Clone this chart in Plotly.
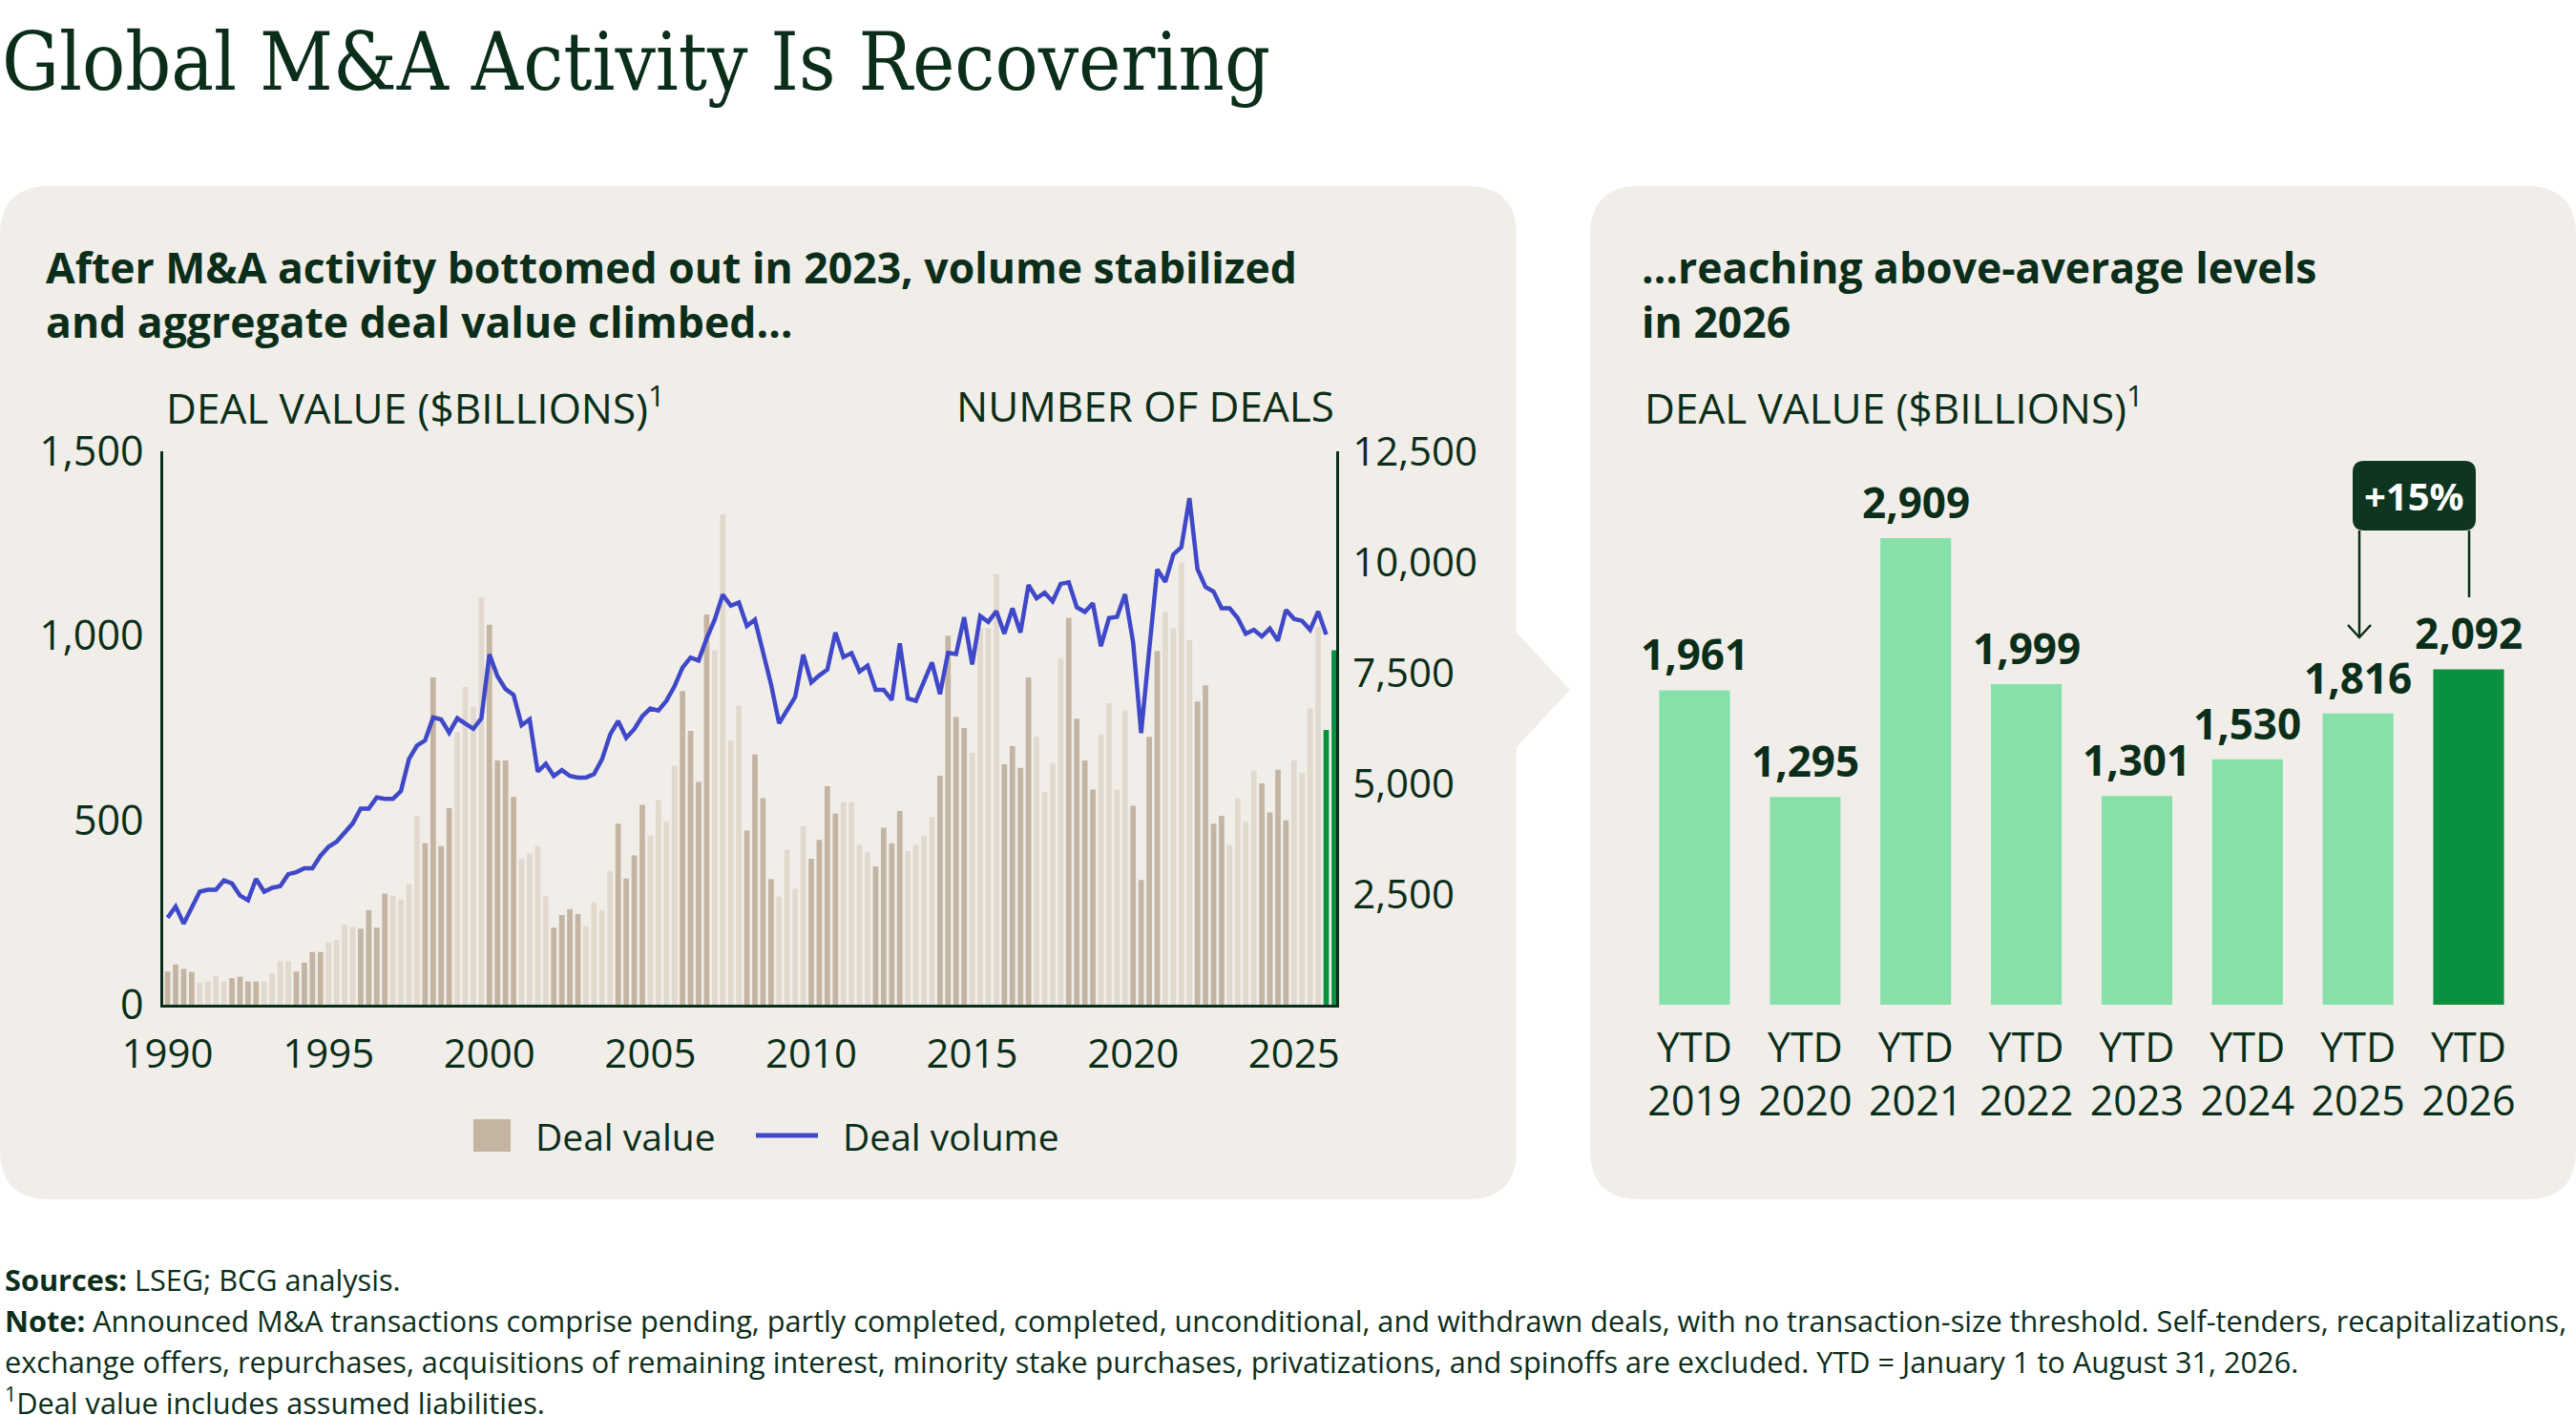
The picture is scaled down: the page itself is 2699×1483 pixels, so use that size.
import plotly.graph_objects as go

W, H = 2699, 1483
INK = "#0b2e1a"
PANEL = "#f1eee9"
TAN_DARK = "#c4b4a2"
TAN_LIGHT = "#e1d8ce"
GREEN = "#0a913f"
GREEN_LIGHT = "#87dfa9"
BLUE = "#3f48c8"
FONT = "Open Sans"

# ---------------- data ----------------
years = list(range(1990, 2027))
# quarterly deal value ($B), 1990Q1 .. 2026Q2
deal_value = [
    90, 109, 97, 89,        # 1990
    60, 63, 79, 63,         # 1991
    72, 76, 63, 63,         # 1992
    63, 85, 118, 118,       # 1993
    90, 114, 143, 143,      # 1994
    169, 176, 217, 211,     # 1995
    206, 256, 209, 301,     # 1996
    296, 285, 327, 512,     # 1997
    438, 887, 430, 533,     # 1998
    739, 861, 808, 1104,    # 1999
    1030, 662, 662, 563,    # 2000
    396, 410, 430, 294,     # 2001
    209, 243, 259, 246,     # 2002
    213, 278, 256, 363,     # 2003
    491, 342, 405, 542,     # 2004
    459, 555, 496, 648,     # 2005
    850, 742, 604, 1058,    # 2006
    961, 1329, 716, 811,    # 2007
    472, 679, 560, 341,     # 2008
    293, 420, 314, 484,     # 2009
    396, 447, 592, 518,     # 2010
    549, 549, 433, 414,     # 2011
    375, 480, 438, 525,     # 2012
    417, 433, 458, 509,     # 2013
    621, 1000, 780, 750,    # 2014
    683, 1021, 1021, 1167,  # 2015
    652, 701, 642, 887,     # 2016
    726, 576, 655, 938,     # 2017
    1049, 775, 662, 583,    # 2018
    731, 817, 583, 797,     # 2019
    539, 338, 726, 959,     # 2020
    1064, 1021, 1199, 988,  # 2021
    822, 866, 491, 512,     # 2022
    433, 560, 496, 634,     # 2023
    600, 521, 637, 500,     # 2024
    662, 629, 803, 1025,    # 2025
    745, 961,               # 2026
]
# quarterly number of deals, 1990Q1 .. 2026Q1
deal_volume = [
    1963, 2218, 1831, 2201,   # 1990
    2553, 2597, 2597, 2808,   # 1991
    2738, 2465, 2359, 2843,   # 1992
    2553, 2641, 2676, 2949,   # 1993
    2993, 3081, 3081, 3363,   # 1994
    3565, 3680, 3891, 4093,   # 1995
    4428, 4428, 4683, 4648,   # 1996
    4648, 4824, 5546, 5854,   # 1997
    5968, 6488, 6444, 6144,   # 1998
    6470, 6365, 6233, 6470,   # 1999
    7914, 7421, 7130, 6998,   # 2000
    6312, 6444, 5264, 5440,   # 2001
    5167, 5299, 5167, 5132,   # 2002
    5132, 5211, 5546, 6100,   # 2003
    6409, 6030, 6224, 6514,   # 2004
    6690, 6646, 6866, 7192,   # 2005
    7615, 7843, 7773, 8275,   # 2006
    8697, 9261, 9014, 9085,   # 2007
    8557, 8697, 7967, 7236,   # 2008
    6356, 6646, 6954, 7905,   # 2009
    7280, 7439, 7571, 8407,   # 2010
    7852, 7940, 7527, 7659,   # 2011
    7113, 7113, 6884, 8160,   # 2012
    6919, 6866, 7306, 7729,   # 2013
    7016, 7949, 7923, 8750,   # 2014
    7685, 8777, 8644, 8891,   # 2015
    8380, 8953, 8407, 9481,   # 2016
    9181, 9305, 9111, 9507,   # 2017
    9542, 8979, 8873, 9067,   # 2018
    8099, 8733, 8759, 9270,   # 2019
    8187, 6136, 8011, 9833,   # 2020
    9551, 10168, 10335, 11444,  # 2021
    9842, 9437, 9331, 8953,   # 2022
    8953, 8733, 8380, 8468,   # 2023
    8319, 8495, 8222, 8917,   # 2024
    8715, 8671, 8468, 8882,   # 2025
    8363,                     # 2026
]
left_ticks = [0, 500, 1000, 1500]
left_tick_labels = ["0", "500", "1,000", "1,500"]
right_ticks = [2500, 5000, 7500, 10000, 12500]
right_tick_labels = ["2,500", "5,000", "7,500", "10,000", "12,500"]
x_tick_years = [1990, 1995, 2000, 2005, 2010, 2015, 2020, 2025]

ytd_labels = ["YTD 2019", "YTD 2020", "YTD 2021", "YTD 2022",
              "YTD 2023", "YTD 2024", "YTD 2025", "YTD 2026"]
ytd_values = [1961, 1295, 2909, 1999, 1301, 1530, 1816, 2092]
change_label = "+15%"

# quarter positions (year + fraction) for each bar / point
quarters = [y + q / 4 for y in years for q in range(4)]
xq_value = quarters[:len(deal_value)]
xq_volume = quarters[:len(deal_volume)]
bar_colors = []
for xv in xq_value:
    yr = int(xv)
    if yr == 2026:
        bar_colors.append(GREEN)
    elif yr % 2 == 0:
        bar_colors.append(TAN_DARK)
    else:
        bar_colors.append(TAN_LIGHT)


def px(x):
    return x / W


def py(y):
    return 1 - y / H


def rounded_path(x0, y0, x1, y1, r, pointer=None):
    pts = []
    pts.append(("M", [(x0 + r, y0)]))
    pts.append(("L", [(x1 - r, y0)]))
    pts.append(("Q", [(x1, y0), (x1, y0 + r)]))
    if pointer:
        ty0, tx, ty, ty1 = pointer
        pts.append(("L", [(x1, ty0)]))
        pts.append(("L", [(tx, ty)]))
        pts.append(("L", [(x1, ty1)]))
    pts.append(("L", [(x1, y1 - r)]))
    pts.append(("Q", [(x1, y1), (x1 - r, y1)]))
    pts.append(("L", [(x0 + r, y1)]))
    pts.append(("Q", [(x0, y1), (x0, y1 - r)]))
    pts.append(("L", [(x0, y0 + r)]))
    pts.append(("Q", [(x0, y0), (x0 + r, y0)]))
    s = ""
    for cmd, ps in pts:
        s += cmd + " " + " ".join(f"{px(a):.6f},{py(b):.6f}" for a, b in ps) + " "
    return s + "Z"


fig = go.Figure()

# left chart: bars + line
fig.add_trace(go.Bar(
    x=xq_value, y=deal_value, marker=dict(color=bar_colors, line=dict(width=0)),
    width=0.17, xaxis="x", yaxis="y", showlegend=False, name="Deal value",
))
fig.add_trace(go.Scatter(
    x=xq_volume, y=deal_volume, mode="lines", line=dict(color=BLUE, width=4.5),
    xaxis="x", yaxis="y2", showlegend=False, name="Deal volume",
))

# right chart
fig.add_trace(go.Bar(
    x=ytd_labels, y=ytd_values, width=0.64,
    marker=dict(color=[GREEN_LIGHT] * (len(ytd_values) - 1) + [GREEN], line=dict(width=0)),
    xaxis="x2", yaxis="y3", showlegend=False,
))

shapes = []
# panels
shapes.append(dict(type="path", xref="paper", yref="paper", layer="below",
                   path=rounded_path(0, 195, 1589, 1257, 52, pointer=(663, 1645, 723, 783)),
                   fillcolor=PANEL, line=dict(width=0)))
shapes.append(dict(type="path", xref="paper", yref="paper", layer="below",
                   path=rounded_path(1666, 195, 2699, 1257, 52),
                   fillcolor=PANEL, line=dict(width=0)))
# +15% box
shapes.append(dict(type="path", xref="paper", yref="paper",
                   path=rounded_path(2465, 483, 2594, 556, 12),
                   fillcolor="#0e3520", line=dict(width=0)))
# connector lines
shapes.append(dict(type="line", xref="paper", yref="paper",
                   x0=px(2472), x1=px(2472), y0=py(556), y1=py(668),
                   line=dict(color=INK, width=2.5)))
shapes.append(dict(type="path", xref="paper", yref="paper",
                   path=f"M {px(2460)},{py(655)} L {px(2472)},{py(668)} L {px(2484)},{py(655)}",
                   line=dict(color=INK, width=2.5)))
shapes.append(dict(type="line", xref="paper", yref="paper",
                   x0=px(2587), x1=px(2587), y0=py(556), y1=py(626),
                   line=dict(color=INK, width=2.5)))
# manual legend
shapes.append(dict(type="rect", xref="paper", yref="paper",
                   x0=px(496), x1=px(535), y0=py(1207), y1=py(1173),
                   fillcolor=TAN_DARK, line=dict(width=0)))
shapes.append(dict(type="line", xref="paper", yref="paper",
                   x0=px(792), x1=px(857), y0=py(1190), y1=py(1190),
                   line=dict(color=BLUE, width=5)))

ann = []


def text(x, y, s, size, xanchor="left", yanchor="middle", color=INK, family=FONT):
    ann.append(dict(x=px(x), y=py(y), xref="paper", yref="paper", text=s,
                    showarrow=False, xanchor=xanchor, yanchor=yanchor, align=xanchor,
                    font=dict(size=size, color=color, family=family)))


text(0, 65, "Global M&A Activity Is Recovering", 83.5, family="DejaVu Serif Condensed")
text(46, 279, "<b>After M&A activity bottomed out in 2023, volume stabilized</b>", 44.5)
text(46, 336, "<b>and aggregate deal value climbed…</b>", 44.5)
text(172, 425, "DEAL VALUE ($BILLIONS)<sup>1</sup>", 44)
text(1400, 425, "NUMBER OF DEALS", 44, xanchor="right")
text(1718, 279, "<b>…reaching above-average levels</b>", 44.5)
text(1718, 336, "<b>in 2026</b>", 44.5)
text(1721, 425, "DEAL VALUE ($BILLIONS)<sup>1</sup>", 44)
text(559, 1190, "Deal value", 39)
text(881, 1190, "Deal volume", 39)
text(2529.5, 519, f"<b>{change_label}</b>", 40, xanchor="center", color="white")

text(3, 1341, "<b>Sources:</b> LSEG; BCG analysis.", 30.7)
text(3, 1384, "<b>Note:</b> Announced M&A transactions comprise pending, partly completed, completed, "
     "unconditional, and withdrawn deals, with no transaction-size threshold. Self-tenders, recapitalizations,", 30.7)
text(3, 1427, "exchange offers, repurchases, acquisitions of remaining interest, minority stake purchases, "
     "privatizations, and spinoffs are excluded. YTD = January 1 to August 31, 2026.", 30.7)
text(3, 1468, "<sup>1</sup>Deal value includes assumed liabilities.", 30.7)

# value labels on right chart
for lab, v in zip(ytd_labels, ytd_values):
    ann.append(dict(x=lab, y=v, xref="x2", yref="y3", text=f"<b>{v:,}</b>",
                    showarrow=False, yanchor="bottom", yshift=6,
                    font=dict(size=44, color=INK, family=FONT)))

axis_common = dict(showgrid=False, zeroline=False, ticks="", fixedrange=True, automargin=False)
fig.update_layout(
    width=W, height=H, autosize=False,
    margin=dict(l=0, r=0, t=0, b=0, pad=0, autoexpand=False),
    paper_bgcolor="white", plot_bgcolor="rgba(0,0,0,0)",
    font=dict(family=FONT, color=INK, size=41),
    barmode="overlay",
    showlegend=False,
    xaxis=dict(domain=[px(171), px(1400)], range=[1989.864, 2026.31], anchor="y",
               showline=True, linecolor=INK, linewidth=2.5,
               tickvals=x_tick_years, ticktext=[str(y) for y in x_tick_years],
               tickfont=dict(size=42, color=INK), ticklabelstandoff=13, **axis_common),
    yaxis=dict(domain=[py(1053), py(473)], range=[0, 1500], anchor="x",
               showline=True, linecolor=INK, linewidth=2.5,
               tickvals=left_ticks, ticktext=left_tick_labels,
               tickfont=dict(size=43, color=INK), ticklabelstandoff=9, **axis_common),
    yaxis2=dict(overlaying="y", side="right", range=[0, 12500], anchor="x",
                showline=True, linecolor=INK, linewidth=2.5,
                tickvals=right_ticks, ticktext=right_tick_labels,
                tickfont=dict(size=42, color=INK), ticklabelstandoff=6, **axis_common),
    xaxis2=dict(domain=[px(1717), px(2645)], anchor="y3", showline=False,
                tickvals=ytd_labels, ticktext=[s.replace(" ", "<br>") for s in ytd_labels],
                tickfont=dict(size=43, color=INK), ticklabelstandoff=16, **axis_common),
    yaxis3=dict(domain=[py(1053), py(473)], range=[0, 3451], anchor="x2",
                visible=False, **axis_common),
    shapes=shapes,
    annotations=ann,
)

fig.write_html("out.html", config={"displayModeBar": False},
               post_script="document.body.style.margin='0';document.body.style.overflow='hidden';")
